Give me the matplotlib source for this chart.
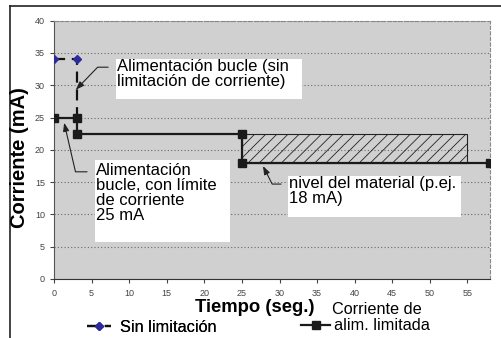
import matplotlib.pyplot as plt
from matplotlib.patches import Rectangle
from matplotlib.lines import Line2D

# data
t_sin = [0, 3, 3]
i_sin = [34, 34, 25]
t_lim = [0, 3, 3, 25, 25, 58]
i_lim = [25, 25, 22.5, 22.5, 18, 18]
band_t = [25, 55]
band_i = [18, 22.5]
x_ticks = list(range(0, 60, 5))
y_ticks = list(range(0, 45, 5))

plt.rcParams['font.family'] = ['Liberation Sans', 'DejaVu Sans']
plt.rcParams['hatch.linewidth'] = 0.6

fig = plt.figure(figsize=(5.01, 3.38), dpi=100)
ax = fig.add_axes([54 / 501, 1 - 279 / 338, 436 / 501, 258.3 / 338])
ax.set_facecolor('#d0d0d0')
ax.set_xlim(0, 58)
ax.set_ylim(0, 40)
ax.set_xticks(x_ticks)
ax.set_yticks(y_ticks)
ax.tick_params(labelsize=6.5, labelcolor='#444', colors='#444', length=3, width=0.8)
ax.tick_params(axis='x', pad=4.5)
ax.tick_params(axis='y', pad=3.5)
ax.grid(axis='y', color='#6a6a6a', lw=0.8, linestyle=(0, (1, 2)))
ax.set_axisbelow(True)
for s in ['top', 'right']:
    ax.spines[s].set_linestyle((0, (3, 2)))
    ax.spines[s].set_color('#888')
    ax.spines[s].set_linewidth(0.8)
ax.spines['left'].set_color('#555')
ax.spines['bottom'].set_color('#333')

# white label boxes
for x0, x1, y0, y1 in [(8.24, 32.95, 27.9, 34.1), (5.45, 23.4, 5.7, 18.4), (31.1, 54.1, 9.6, 16.0)]:
    ax.add_patch(Rectangle((x0, y0), x1 - x0, y1 - y0, fc='white', ec='none', zorder=1.5))

ax.add_patch(Rectangle((band_t[0], band_i[0]), band_t[1] - band_t[0], band_i[1] - band_i[0],
                       fc='none', ec='#222', lw=0.8, hatch='///', zorder=2))

l_sin, = ax.plot(t_sin, i_sin, color='#111', lw=1.6, linestyle=(0, (5, 3)),
                 marker='D', ms=4, mfc='#2b2b9c', mec='#2b2b9c', markevery=[0, 1], zorder=3)
l_lim, = ax.plot(t_lim, i_lim, color='#1a1a1a', lw=1.6, marker='s', ms=5.3,
                 mfc='#1a1a1a', mec='#1a1a1a', zorder=4)

tkw = dict(fontsize=12, ha='left', va='top', zorder=5, linespacing=1.0)
ax.text(8.35, 34.1, 'Alimentación bucle (sin\nlimitación de corriente)', **tkw)
ax.text(5.6, 18.0, 'Alimentación\nbucle, con límite\nde corriente\n25 mA', **tkw)
ax.text(31.2, 16.0, 'nivel del material (p.ej.\n18 mA)', **tkw)

arw = dict(arrowstyle='-|>,head_length=0.5,head_width=0.18', color='#222', lw=0.8,
           shrinkA=0, shrinkB=0)
ax.annotate('', xy=(2.9, 29.3), xytext=(7.2, 32.8),
            arrowprops=dict(connectionstyle='angle,angleA=0,angleB=46,rad=0', **arw))
ax.annotate('', xy=(1.35, 24.2), xytext=(4.4, 16.6),
            arrowprops=dict(connectionstyle='angle,angleA=0,angleB=-77,rad=0', **arw))
ax.annotate('', xy=(27.8, 17.5), xytext=(30.2, 14.7),
            arrowprops=dict(connectionstyle='angle,angleA=0,angleB=-63,rad=0', **arw))

fig.text(20 / 501, 1 - 158 / 338, 'Corriente (mA)', rotation=90, fontsize=14.5,
         fontweight='bold', ha='center', va='center')
fig.text(255 / 501, 1 - 307 / 338, 'Tiempo (seg.)', fontsize=13.3,
         fontweight='bold', ha='center', va='center')

leg1 = fig.legend([l_sin], ['Sin limitación'], loc='center left',
                  bbox_to_anchor=(87 / 501, 1 - 327 / 338), frameon=False, fontsize=11.7,
                  handlelength=1.5, handletextpad=0.5, borderpad=0, borderaxespad=0)
fig.legend([l_lim], ['alim. limitada'], loc='center left',
           bbox_to_anchor=(301 / 501, 1 - 326 / 338), frameon=False, fontsize=11.7,
           handlelength=1.8, handletextpad=0.25, borderpad=0, borderaxespad=0)
fig.add_artist(leg1)
fig.text(332 / 501, 1 - 309 / 338, 'Corriente de', fontsize=11.7, ha='left', va='center')

# frame lines (top and left)
fig.add_artist(Line2D([10 / 501, 1], [1 - 6 / 338] * 2, color='#222', lw=1.2))
fig.add_artist(Line2D([10 / 501] * 2, [0, 1 - 6 / 338], color='#222', lw=1.2))

fig.savefig('out.png', dpi=100)
